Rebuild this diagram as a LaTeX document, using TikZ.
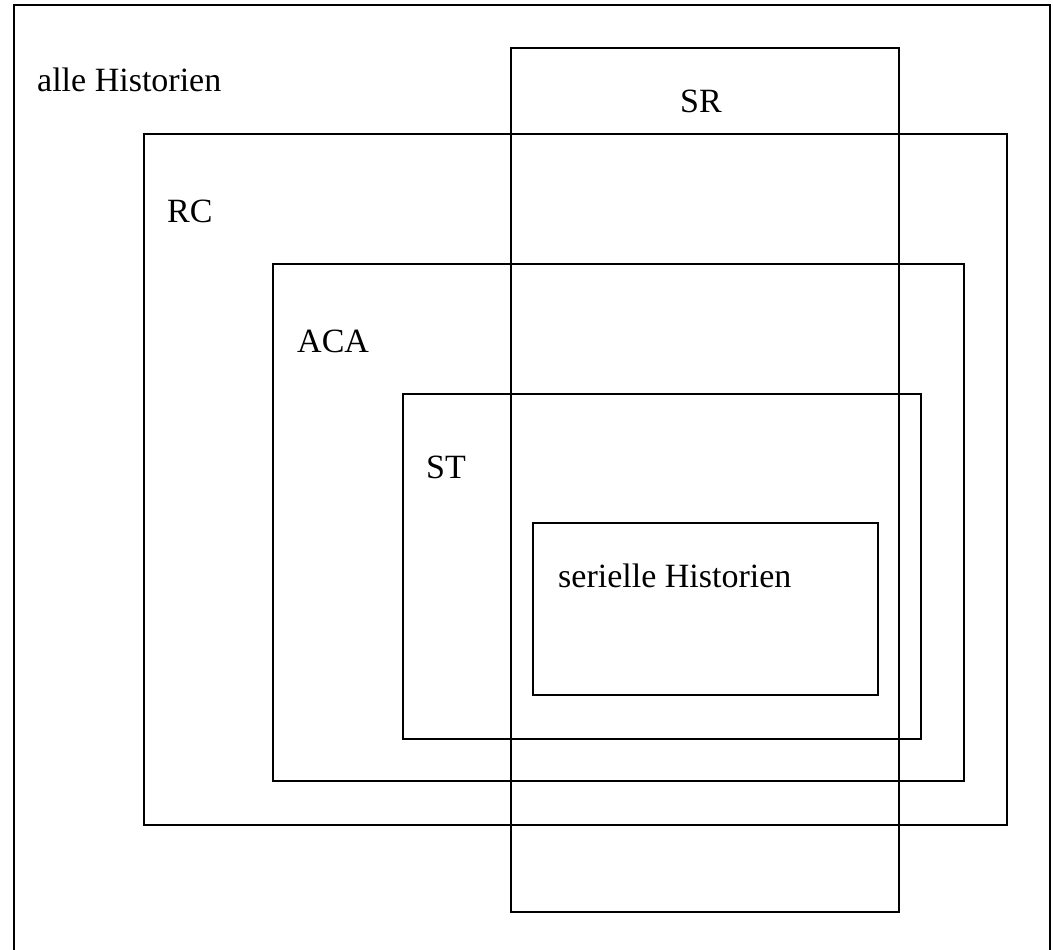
\documentclass[tikz,border=0pt]{standalone}
\usepackage{fontspec}
\setmainfont{Liberation Serif}
\usepackage{tikz}

\begin{document}
\begin{tikzpicture}[x=1pt,y=-1pt,
  box/.style={draw=black,line width=2pt},
  lbl/.style={anchor=base west,inner sep=0pt,font=\fontsize{34}{40}\selectfont}]
  \useasboundingbox (0,0) rectangle (1053,950);
  \clip (0,0) rectangle (1053,950);
  % Boxes
  \draw[box] (14,5) rectangle (1050,965);
  \draw[box] (144,134) rectangle (1007,825);
  \draw[box] (273,264) rectangle (964,781);
  \draw[box] (403,394) rectangle (921,739);
  \draw[box] (533,523) rectangle (878,695);
  \draw[box] (511,48) rectangle (899,912);
  % Labels
  \node[lbl] (alle) at (37,92) {alle Historien};
  \node[lbl] (sr) at (680,113) {SR};
  \node[lbl] (rc) at (167,222) {RC};
  \node[lbl] (aca) at (297,352) {ACA};
  \node[lbl] (st) at (426,478) {ST};
  \node[lbl] (ser) at (558,587) {serielle Historien};
\end{tikzpicture}
\end{document}
